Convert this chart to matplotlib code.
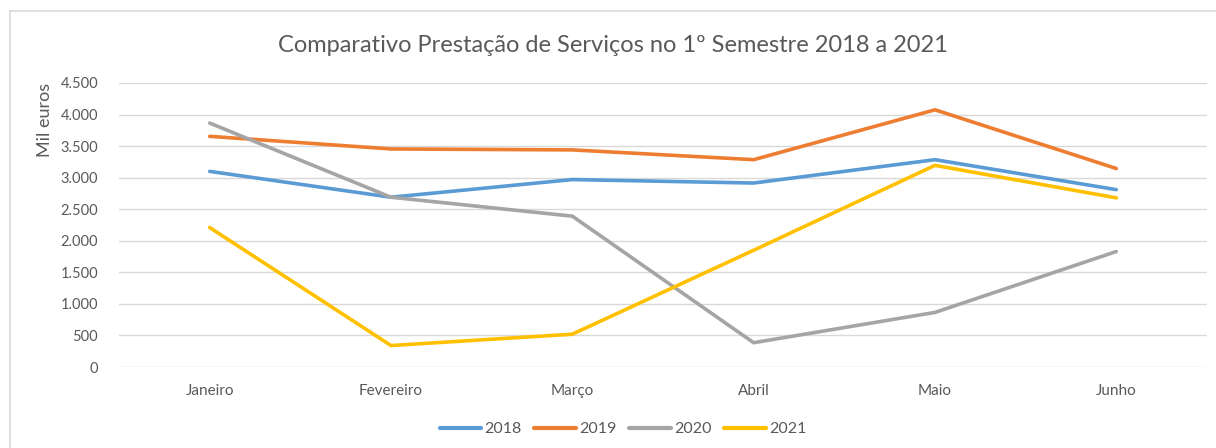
import matplotlib
matplotlib.use("Agg")
import matplotlib.pyplot as plt
from matplotlib.ticker import FuncFormatter, MultipleLocator
from matplotlib.lines import Line2D

plt.rcParams['font.family'] = ['Lato', 'DejaVu Sans']

months = ["Janeiro", "Fevereiro", "Março", "Abril", "Maio", "Junho"]
v2018 = [3100, 2690, 2970, 2915, 3285, 2810]
v2019 = [3655, 3455, 3440, 3285, 4075, 3145]
v2020 = [3865, 2690, 2390, 385, 865, 1830]
v2021 = [2210, 340, 520, 1850, 3195, 2680]
series_names = ["2018", "2019", "2020", "2021"]
colors = ["#5B9BD5", "#ED7D31", "#A5A5A5", "#FFC000"]

W, H = 1216, 448
fig = plt.figure(figsize=(W / 100, H / 100), dpi=100)
ax = fig.add_axes([119 / W, 1 - 367 / H, (1207 - 119) / W, (367 - 83) / H])

x = list(range(len(months)))
for vals, c, n in zip([v2018, v2019, v2020, v2021], colors, series_names):
    ax.plot(x, vals, color=c, lw=2.6, solid_capstyle='round', solid_joinstyle='round', label=n, zorder=3)

ax.set_xlim(-0.5, len(months) - 0.5)
ax.set_ylim(0, 4500)
ax.yaxis.set_major_locator(MultipleLocator(500))
ax.yaxis.set_major_formatter(FuncFormatter(lambda v, p: f"{int(v):,}".replace(",", ".")))
ax.set_xticks(x)
ax.set_xticklabels(months)
ax.grid(axis='y', color='#D9D9D9', lw=1.0, zorder=0)
for s in ax.spines.values():
    s.set_visible(False)
ax.tick_params(axis='both', length=0, colors='#595959')
ax.tick_params(axis='y', pad=15, labelsize=10.5)
ax.tick_params(axis='x', pad=12, labelsize=11)

fig.text(613 / W, 1 - 45 / H, "Comparativo Prestação de Serviços no 1º Semestre 2018 a 2021",
         ha='center', va='center', fontsize=17, color='#595959')
fig.text(45 / W, 1 - 120 / H, "Mil euros", rotation=90, ha='center', va='center',
         fontsize=13, color='#595959')

handles = [Line2D([0], [0], color=c, lw=3, solid_capstyle='round') for c in colors]
fig.legend(handles, series_names, loc='center', bbox_to_anchor=(623 / W, 1 - 429 / H),
           ncol=4, frameon=False, fontsize=11.5, handlelength=2.6, handletextpad=0.2,
           columnspacing=0.8, labelcolor='#595959')

# chart border (top and left visible)
fig.add_artist(Line2D([10 / W, 10 / W], [0, 1 - 11 / H], color='#D9D9D9', lw=1.2, transform=fig.transFigure))
fig.add_artist(Line2D([10 / W, 1], [1 - 11 / H, 1 - 11 / H], color='#D9D9D9', lw=1.2, transform=fig.transFigure))

fig.savefig("out.png", dpi=100)
